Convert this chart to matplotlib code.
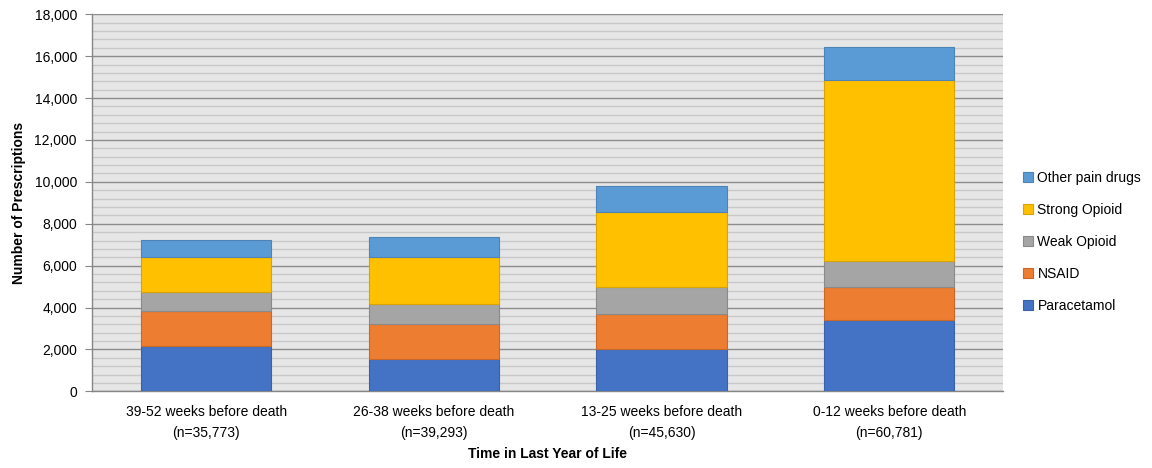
import matplotlib
matplotlib.use("Agg")
import matplotlib.pyplot as plt
import numpy as np
from matplotlib.ticker import MultipleLocator, FuncFormatter

categories = ["39-52 weeks before death\n(n=35,773)",
              "26-38 weeks before death\n(n=39,293)",
              "13-25 weeks before death\n(n=45,630)",
              "0-12 weeks before death\n(n=60,781)"]
paracetamol = [2180, 1560, 2030, 3420]
nsaid = [1640, 1640, 1660, 1550]
weak_opioid = [910, 960, 1280, 1240]
strong_opioid = [1700, 2260, 3580, 8660]
other_pain = [780, 940, 1270, 1560]

series = [("Paracetamol", paracetamol, "#4472C4", "#3A62A8"),
          ("NSAID", nsaid, "#ED7D31", "#C8692A"),
          ("Weak Opioid", weak_opioid, "#A5A5A5", "#8A8A8A"),
          ("Strong Opioid", strong_opioid, "#FFC000", "#D9A300"),
          ("Other pain drugs", other_pain, "#5B9BD5", "#4D84B5")]

plt.rcParams['font.family'] = ['Liberation Sans', 'DejaVu Sans']

fig = plt.figure(figsize=(11.52, 4.68), dpi=100)
ax = fig.add_axes([0.0801, 0.1639, 0.7906, 0.8055])
ax.set_facecolor("#E6E6E6")

x = np.arange(len(categories))
bottom = np.zeros(len(categories))
handles = []
for name, vals, col, edge in series:
    b = ax.bar(x, vals, width=0.573, bottom=bottom, color=col, edgecolor=edge,
               linewidth=0.8, label=name, zorder=3)
    handles.append(b)
    bottom += np.array(vals)

ax.set_xlim(-0.5, 3.5)
ax.set_ylim(0, 18000)
ax.yaxis.set_major_locator(MultipleLocator(2000))
ax.yaxis.set_minor_locator(MultipleLocator(400))
ax.yaxis.set_major_formatter(FuncFormatter(lambda v, p: f"{int(v):,}"))
ax.grid(axis="y", which="minor", color="#C8C8C8", linewidth=1.0, zorder=0)
ax.grid(axis="y", which="major", color="#8C8C8C", linewidth=1.0, zorder=0)
ax.set_axisbelow(True)

ax.set_xticks(x)
ax.set_xticklabels(categories, fontsize=10, linespacing=1.6)
ax.tick_params(axis="x", length=0, pad=10)
ax.tick_params(axis="y", which="major", length=5, color="#868686", labelsize=10, pad=6)
ax.tick_params(axis="y", which="minor", length=0)

for s in ["top", "right"]:
    ax.spines[s].set_visible(False)
for s in ["left", "bottom"]:
    ax.spines[s].set_color("#868686")
    ax.spines[s].set_linewidth(1.0)

ax.set_ylabel("Number of Prescriptions", fontsize=10, fontweight="bold", labelpad=6)
ax.set_xlabel("Time in Last Year of Life", fontsize=10, fontweight="bold", labelpad=5)

fig.legend(handles[::-1], [s[0] for s in series][::-1], loc="center left",
           bbox_to_anchor=(0.877, 0.483), frameon=False, fontsize=10,
           handlelength=0.7, handleheight=0.7, handletextpad=0.35, labelspacing=1.3)

fig.savefig("out.png", dpi=100)
